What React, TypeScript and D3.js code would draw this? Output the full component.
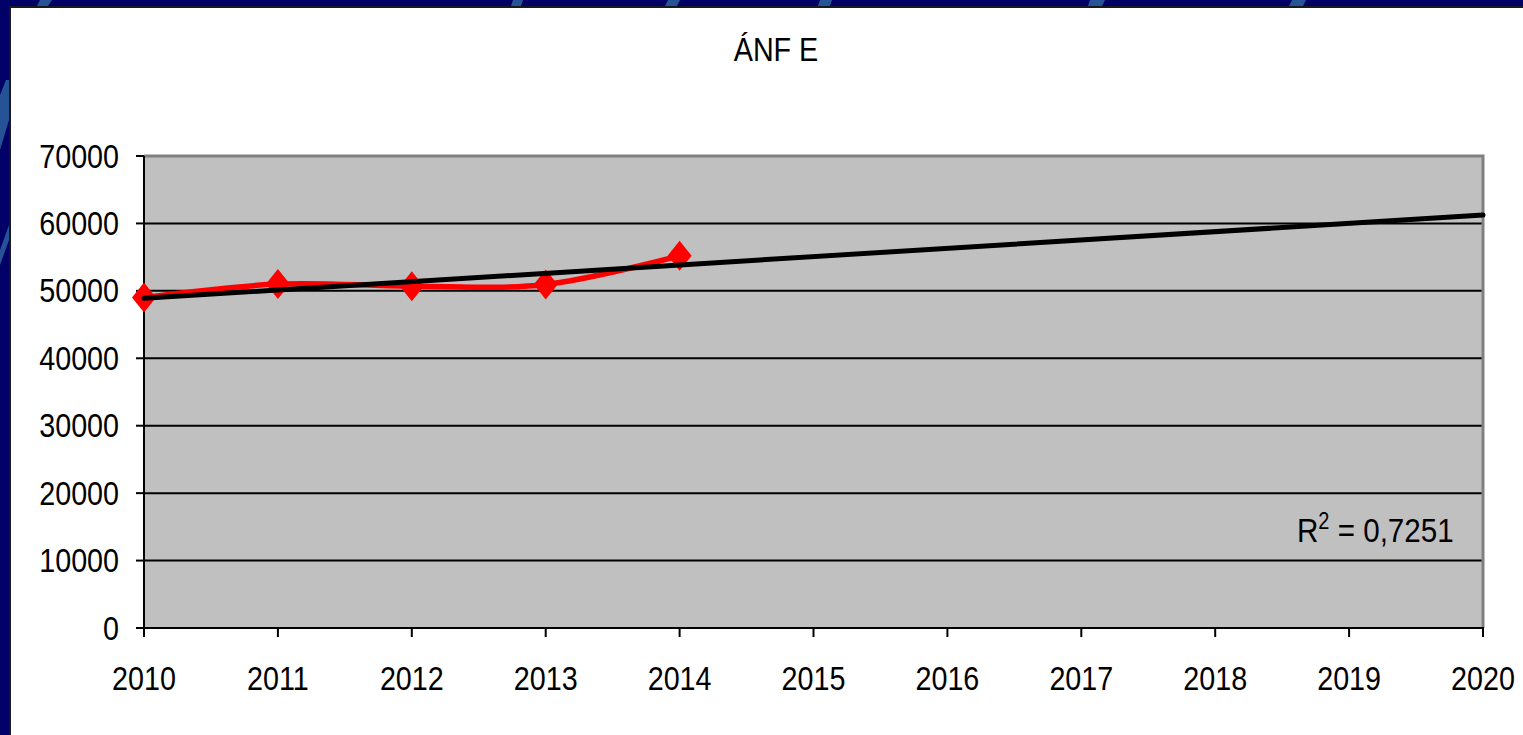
import React, { useEffect } from "react";
import * as d3 from "d3";

// Series: yearly values of ÁNF E
const years = [2010, 2011, 2012, 2013, 2014];
const values = [49000, 51000, 50700, 50950, 55200];

// Axis ticks
const yTicks = [0, 10000, 20000, 30000, 40000, 50000, 60000, 70000];
const xTicks = [2010, 2011, 2012, 2013, 2014, 2015, 2016, 2017, 2018, 2019, 2020];

const title = "ÁNF E";
const r2Label = "0,7251";

const W = 1523;
const H = 735;
const plot = { left: 144, top: 156, right: 1483, bottom: 628 };

// Least-squares linear fit over the observed years
function linearFit(xs: number[], ys: number[]) {
  const mx = d3.mean(xs) as number;
  const my = d3.mean(ys) as number;
  let sxy = 0;
  let sxx = 0;
  xs.forEach((x, i) => {
    sxy += (x - mx) * (ys[i] - my);
    sxx += (x - mx) * (x - mx);
  });
  const slope = sxy / sxx;
  const intercept = my - slope * mx;
  return (x: number) => intercept + slope * x;
}

const FONT = "'Liberation Sans', Arial, Helvetica, sans-serif";

export default function App() {
  useEffect(() => {
    document.body.style.margin = "0";
  }, []);

  const x = d3.scaleLinear().domain([2010, 2020]).range([plot.left, plot.right]);
  const y = d3.scaleLinear().domain([0, 70000]).range([plot.bottom, plot.top]);

  const pts: [number, number][] = years.map((yr, i) => [x(yr), y(values[i])]);
  const seriesPath = d3.line().curve(d3.curveCardinal.tension(0))(pts) || "";

  const fit = linearFit(years, values);
  const trendPath =
    d3.line()([
      [x(2010), y(fit(2010))],
      [x(2020), y(fit(2020))],
    ]) || "";

  const diamond = (cx: number, cy: number) => {
    const hw = 12;
    const hh = 15;
    return `M${cx},${cy - hh}L${cx + hw},${cy}L${cx},${cy + hh}L${cx - hw},${cy}Z`;
  };

  const sx = 0.87;

  return (
    <svg
      width={W}
      height={H}
      style={{ position: "absolute", left: 0, top: 0, display: "block" }}
      fontFamily={FONT}
    >
      {/* slide frame */}
      <rect x={0} y={0} width={W} height={H} fill="#000066" />
      <g fill="#2b5d9c" opacity={0.9}>
        <polygon points="40,0 52,0 48,6 37,6" />
        <polygon points="0,95 6,80 9,80 9,120 0,150" />
        <polygon points="0,250 9,225 9,240 0,265" />
        <polygon points="513,0 523,0 521,6 511,6" />
        <polygon points="668,0 680,0 677,6 665,6" />
        <polygon points="820,0 832,0 830,6 818,6" />
        <polygon points="1090,0 1105,0 1102,6 1088,6" />
        <polygon points="1292,0 1306,0 1303,6 1289,6" />
      </g>
      <rect x={9} y={6} width={W - 9} height={H - 6} fill="#1a1a1a" />
      <rect x={11} y={8} width={W - 11} height={H - 8} fill="#ffffff" />

      {/* title */}
      <g transform={`translate(776,61) scale(${sx},1)`}>
        <text x={0} y={0} fontSize={33} textAnchor="middle" fill="#000">
          {title}
        </text>
      </g>

      {/* plot area */}
      <rect
        x={plot.left}
        y={plot.top}
        width={plot.right - plot.left}
        height={plot.bottom - plot.top}
        fill="#c0c0c0"
      />

      {/* gridlines */}
      {yTicks
        .filter((t) => t > 0 && t < 70000)
        .map((t) => (
          <line
            key={`g${t}`}
            x1={plot.left}
            x2={plot.right}
            y1={y(t)}
            y2={y(t)}
            stroke="#000"
            strokeWidth={2}
          />
        ))}

      {/* plot border: top and right */}
      <polyline
        points={`${plot.left},${plot.top} ${plot.right},${plot.top} ${plot.right},${plot.bottom}`}
        fill="none"
        stroke="#808080"
        strokeWidth={3}
      />

      {/* axes */}
      <line x1={plot.left} x2={plot.left} y1={plot.top} y2={plot.bottom + 1} stroke="#000" strokeWidth={2} />
      <line x1={plot.left - 1} x2={plot.right + 1} y1={plot.bottom} y2={plot.bottom} stroke="#000" strokeWidth={2} />

      {yTicks.map((t) => (
        <g key={`y${t}`}>
          <line x1={plot.left - 8} x2={plot.left} y1={y(t)} y2={y(t)} stroke="#000" strokeWidth={2} />
          <g transform={`translate(119,${y(t) + 11.5}) scale(${sx},1)`}>
            <text x={0} y={0} fontSize={33} textAnchor="end" fill="#000">
              {t}
            </text>
          </g>
        </g>
      ))}

      {xTicks.map((t) => (
        <g key={`x${t}`}>
          <line x1={x(t)} x2={x(t)} y1={plot.bottom} y2={plot.bottom + 9} stroke="#000" strokeWidth={2} />
          <g transform={`translate(${x(t)},690) scale(${sx},1)`}>
            <text x={0} y={0} fontSize={33} textAnchor="middle" fill="#000">
              {t}
            </text>
          </g>
        </g>
      ))}

      {/* data series */}
      <path d={seriesPath} fill="none" stroke="#ff0000" strokeWidth={5.5} strokeLinejoin="round" />
      {pts.map(([px, py], i) => (
        <path key={`m${i}`} d={diamond(px, py)} fill="#ff0000" />
      ))}

      {/* linear trendline */}
      <path d={trendPath} fill="none" stroke="#000" strokeWidth={5} strokeLinecap="round" />

      {/* R² label */}
      <g transform={`translate(1297,542) scale(${sx},1)`}>
        <text x={0} y={0} fontSize={34} fill="#000">
          R
          <tspan fontSize={23} dy={-13}>
            2
          </tspan>
          <tspan dy={13}>{` = ${r2Label}`}</tspan>
        </text>
      </g>
    </svg>
  );
}
